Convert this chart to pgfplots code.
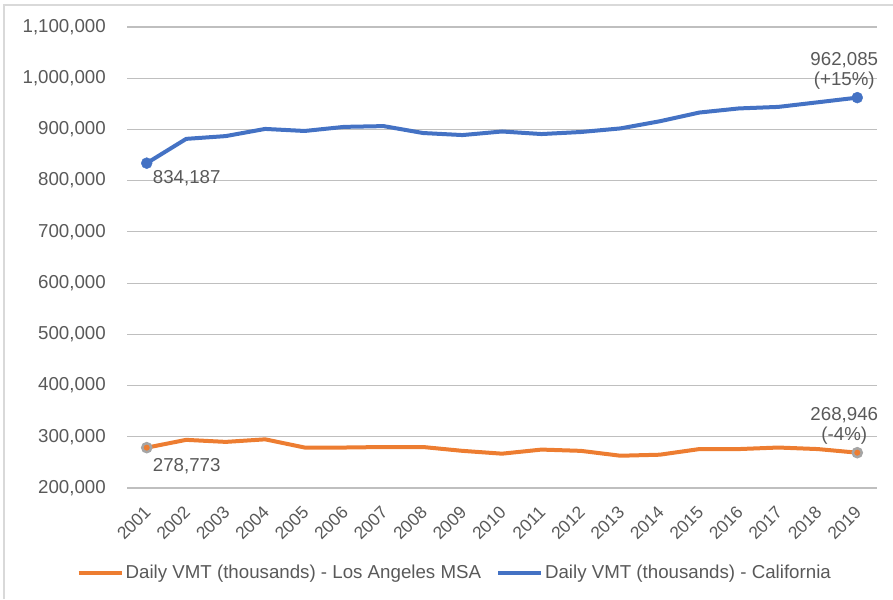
\documentclass[border=0pt]{standalone}
\usepackage{pgfplots}
\pgfplotsset{compat=1.18}
\usepackage{fontspec}
\setmainfont{Liberation Sans}
\definecolor{cablue}{HTML}{4472C4}
\definecolor{laorange}{HTML}{ED7D31}
\definecolor{txt}{HTML}{595959}
\definecolor{grid}{HTML}{D9D9D9}
\definecolor{mkgray}{HTML}{A5A5A5}
\pgfplotstableread{
year ca la
2001 834187 278773
2002 881600 294000
2003 887000 290000
2004 901000 295000
2005 897000 279000
2006 905000 279000
2007 906500 280000
2008 893000 280000
2009 889000 272500
2010 896000 267000
2011 891000 275000
2012 895000 272500
2013 902000 263000
2014 916000 265000
2015 933000 276000
2016 941000 276000
2017 944000 279000
2018 953000 276000
2019 962085 268946
}\vmtdata
\begin{document}
\begin{tikzpicture}
\useasboundingbox (0,0) rectangle (893pt,599pt);
\draw[grid, line width=1.5pt] (4pt,0pt) -- (4pt,594pt) -- (893pt,594pt);
\begin{axis}[
  at={(127pt,111pt)}, anchor=south west,
  scale only axis, width=750pt, height=461pt,
  xmin=2000.5, xmax=2019.5, ymin=200000, ymax=1100000,
  axis line style={draw=none},
  xtick={2001,...,2019}, ytick={200000,300000,...,1100000},
  scaled y ticks=false, scaled x ticks=false,
  xmajorgrids=false, ymajorgrids=true,
  major grid style={grid, line width=1.2pt},
  major tick length=0pt, xtick style={draw=none}, ytick style={draw=none},
  font=\fontsize{18.7}{22}\selectfont\color{txt},
  /pgf/number format/assume math mode=true,
  xticklabel={\pgfmathprintnumber[fixed,1000 sep={}]{\tick}},
  yticklabel={\pgfmathprintnumber[fixed,1000 sep={,}]{\tick}},
  xticklabel style={xshift=1pt, yshift=-21pt, rotate=45, anchor=east, inner sep=0pt, text=txt, font=\fontsize{17.5}{19}\selectfont},
  yticklabel style={anchor=east, inner sep=0pt, xshift=-21pt, text=txt},
  clip=false,
  legend style={at={(0.437,-0.184)}, anchor=center, draw=none, fill=none,
    legend columns=2, font=\fontsize{18.7}{22}\selectfont\color{txt},
    /tikz/every even column/.append style={column sep=13pt},
    inner sep=0pt, legend cell align=left},
  legend image code/.code={\draw[#1, line width=4pt] (0pt,0pt) -- (43pt,0pt);},
]
\addplot[laorange, line width=4pt, line join=round, mark=none] table[x=year,y=la]{\vmtdata};
\addlegendentry{Daily VMT (thousands) - Los Angeles MSA}
\addplot[cablue, line width=4pt, line join=round, mark=none] table[x=year,y=ca]{\vmtdata};
\addlegendentry{Daily VMT (thousands) - California}
\addplot[only marks, mark=*, mark size=4.5pt, mark options={fill=laorange, draw=mkgray, line width=2.5pt}, forget plot] coordinates {(2001,278773) (2019,268946)};
\addplot[only marks, mark=*, mark size=5.5pt, mark options={fill=cablue, draw=cablue}, forget plot] coordinates {(2001,834187) (2019,962085)};
\node[anchor=west, inner sep=0pt, text=txt, xshift=6pt, yshift=-15pt] at (axis cs:2001,834187) {834,187};
\node[anchor=west, inner sep=0pt, text=txt, xshift=6pt, yshift=-19pt] at (axis cs:2001,278773) {278,773};
\node[anchor=south, align=center, inner sep=0pt, text=txt, xshift=-13pt, yshift=8pt, font=\fontsize{18.7}{20}\selectfont] at (axis cs:2019,962085) {962,085\\(+15\%)};
\node[anchor=south, align=center, inner sep=0pt, text=txt, xshift=-13pt, yshift=8pt, font=\fontsize{18.7}{20}\selectfont] at (axis cs:2019,268946) {268,946\\(-4\%)};
\end{axis}
\end{tikzpicture}
\end{document}
